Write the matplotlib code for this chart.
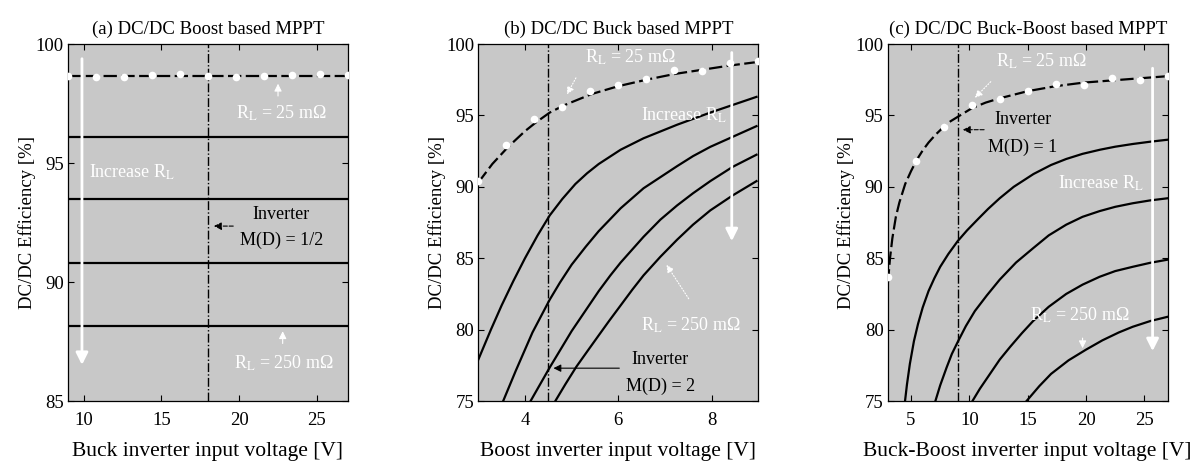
import numpy as np
import matplotlib.pyplot as plt

plt.rcParams['font.family'] = ['Liberation Serif', 'DejaVu Serif']
plt.rcParams['mathtext.fontset'] = 'stix'

# ---- (a) boost based MPPT: flat efficiency lines ----
a_x = [9, 27]
a_dashed = [98.67, 98.67]
a_solid = [[96.1, 96.1], [93.47, 93.47], [90.81, 90.81], [88.17, 88.17]]
a_dot_x = [9.0, 10.8, 12.6, 14.4, 16.2, 18.0, 19.8, 21.6, 23.4, 25.2, 27.0]
a_dot_y = [98.65, 98.6, 98.62, 98.7, 98.72, 98.65, 98.62, 98.65, 98.7, 98.72, 98.68]

# ---- (b) buck based MPPT ----
b_dash_x = [3.0, 3.3, 3.64, 4.0, 4.23, 4.53, 4.83, 5.43, 6.0, 6.6, 7.2, 7.8, 8.4, 9.0]
b_dash_y = [90.3, 91.6, 92.8, 93.9, 94.5, 95.2, 95.7, 96.5, 97.05, 97.5, 97.9, 98.2, 98.5, 98.75]
b_c1_x = [3.0, 3.27, 3.5, 3.75, 4.0, 4.27, 4.53, 4.8, 5.08, 5.33, 5.58, 6.05, 6.54, 7.26, 7.97, 8.96]
b_c1_y = [77.9, 80.0, 81.7, 83.4, 85.0, 86.6, 88.0, 89.15, 90.2, 90.95, 91.6, 92.6, 93.4, 94.35, 95.2, 96.3]
b_c2_x = [3.45, 3.52, 3.8, 4.16, 4.53, 4.75, 5.0, 5.3, 5.58, 6.05, 6.54, 7.26, 7.6, 7.97, 8.96]
b_c2_y = [74.4, 74.9, 77.1, 79.8, 82.1, 83.3, 84.55, 85.8, 86.9, 88.5, 89.9, 91.45, 92.15, 92.8, 94.25]
b_c3_x = [4.05, 4.12, 4.53, 5.0, 5.58, 5.83, 6.05, 6.54, 6.9, 7.26, 7.6, 7.97, 8.45, 8.96]
b_c3_y = [74.6, 75.0, 77.35, 79.9, 82.7, 83.8, 84.7, 86.5, 87.7, 88.7, 89.55, 90.4, 91.4, 92.25]
b_c4_x = [4.6, 4.65, 4.87, 5.1, 5.35, 5.58, 5.8, 6.05, 6.3, 6.54, 6.9, 7.26, 7.6, 7.97, 8.45, 8.96]
b_c4_y = [74.7, 75.0, 76.2, 77.4, 78.55, 79.6, 80.6, 81.7, 82.8, 83.8, 85.1, 86.3, 87.35, 88.35, 89.4, 90.4]
b_dot_x = [3.0, 3.6, 4.2, 4.8, 5.4, 6.0, 6.6, 7.2, 7.8, 8.4, 9.0]
b_dot_y = [90.4, 92.9, 94.75, 95.6, 96.7, 97.15, 97.55, 98.2, 98.1, 98.65, 98.8]

# ---- (c) buck-boost based MPPT ----
c_dash_x = [3.02, 3.2, 3.4, 3.7, 4.0, 4.5, 5.0, 5.5, 6.0, 6.5, 7.1, 7.8, 8.4, 9.0, 10.2,
            11.4, 12.6, 15.0, 17.4, 19.8, 22.2, 24.6, 27.0]
c_dash_y = [83.3, 85.0, 86.4, 87.9, 88.9, 90.2, 91.1, 91.9, 92.55, 93.1, 93.65, 94.2, 94.6,
            94.9, 95.5, 95.9, 96.2, 96.7, 97.05, 97.3, 97.45, 97.6, 97.75]
c_c1_x = [4.4, 4.65, 4.9, 5.25, 5.6, 6.0, 6.5, 7.0, 7.5, 8.2, 9.0, 9.8, 10.75, 11.6, 12.6,
          13.8, 15.5, 17.0, 18.3, 19.7, 21.2, 22.5, 24.0, 25.5, 27.0]
c_c1_y = [74.4, 76.15, 77.6, 79.2, 80.4, 81.55, 82.7, 83.6, 84.4, 85.3, 86.2, 86.95, 87.75,
          88.45, 89.2, 90.0, 90.9, 91.53, 91.95, 92.31, 92.6, 92.81, 93.0, 93.16, 93.3]
c_c2_x = [6.9, 7.05, 7.5, 8.05, 8.5, 9.04, 9.7, 10.47, 11.5, 12.6, 14.0, 15.46, 16.8, 18.3,
          19.7, 21.16, 22.5, 24.0, 25.5, 27.0]
c_c2_y = [74.5, 74.9, 76.1, 77.35, 78.3, 79.2, 80.25, 81.3, 82.4, 83.5, 84.7, 85.7, 86.6,
          87.35, 87.9, 88.3, 88.6, 88.85, 89.05, 89.2]
c_c3_x = [10.1, 10.19, 10.9, 11.6, 12.6, 13.5, 14.5, 15.46, 16.8, 18.3, 19.7, 21.16, 22.5,
          24.0, 25.5, 27.0]
c_c3_y = [74.7, 74.9, 75.86, 76.7, 77.9, 78.8, 79.75, 80.6, 81.6, 82.5, 83.15, 83.7, 84.1,
          84.4, 84.68, 84.9]
c_c4_x = [14.6, 14.9, 16.0, 17.0, 18.5, 20.0, 21.4, 22.8, 24.0, 25.5, 27.0]
c_c4_y = [74.7, 75.0, 76.05, 76.9, 77.85, 78.6, 79.25, 79.8, 80.2, 80.6, 80.9]
c_dot_x = [3.0, 5.4, 7.8, 10.2, 12.6, 15.0, 17.4, 19.8, 22.2, 24.6, 27.0]
c_dot_y = [83.7, 91.8, 94.2, 95.75, 96.15, 96.7, 97.2, 97.1, 97.6, 97.5, 97.75]

titles = ['(a) DC/DC Boost based MPPT', '(b) DC/DC Buck based MPPT',
          '(c) DC/DC Buck-Boost based MPPT']
xlabels = ['Buck inverter input voltage [V]', 'Boost inverter input voltage [V]',
           'Buck-Boost inverter input voltage [V]']

bg = '#c8c8c8'
ann = 13

fig = plt.figure(figsize=(12.03, 4.65), dpi=100)
lefts = [0.0565, 0.3976, 0.7379]
axes = [fig.add_axes([l, 0.1376, 0.2328, 0.7677]) for l in lefts]


def style(ax, title, xlabel, xlim, ylim, xticks, yticks):
    ax.set_facecolor(bg)
    ax.set_xlim(*xlim)
    ax.set_ylim(*ylim)
    ax.set_xticks(xticks)
    ax.set_yticks(yticks)
    ax.tick_params(direction='in', top=True, right=True, labelsize=13.5, length=4)
    ax.tick_params(axis='x', pad=8)
    ax.tick_params(axis='y', pad=3)
    ax.set_title(title, fontsize=13.5, pad=7)
    ax.set_xlabel(xlabel, fontsize=15.5, labelpad=9)
    ax.set_ylabel('DC/DC Efficiency [%]', fontsize=13.5, labelpad=0)
    for s in ax.spines.values():
        s.set_linewidth(0.9)


def draw_dashed(ax, x, y, dx, dy):
    ax.plot(x, y, color='black', lw=1.6, ls=(0, (6, 2)), zorder=3)
    ax.plot(dx, dy, 'o', color='white', ms=5.5, mec='none', zorder=4)


def white_text(ax, x, y, s, size=ann):
    ax.text(x, y, s, color='white', fontsize=size, ha='center', va='center', zorder=6)


def black_text(ax, x, y, s, size=ann):
    ax.text(x, y, s, color='black', fontsize=size, ha='center', va='center', zorder=6)


def big_arrow(ax, x, y0, y1):
    ax.annotate('', xy=(x, y1), xytext=(x, y0),
                arrowprops=dict(arrowstyle='-|>', color='white', lw=2, mutation_scale=18),
                zorder=6)


def small_arrow(ax, x0, y0, x1, y1, color='white', ls='-'):
    ax.annotate('', xy=(x1, y1), xytext=(x0, y0),
                arrowprops=dict(arrowstyle='-|>', color=color, lw=0.8, ls=ls,
                                mutation_scale=11),
                zorder=6)


RL = 'R$_\\mathrm{L}$'

# (a)
ax = axes[0]
style(ax, titles[0], xlabels[0], (9, 27), (85, 100), [10, 15, 20, 25], [85, 90, 95, 100])
for ys in a_solid:
    ax.plot(a_x, ys, color='black', lw=1.6, zorder=3)
draw_dashed(ax, a_x, a_dashed, a_dot_x, a_dot_y)
ax.axvline(18, color='black', lw=1, ls='-.', zorder=2)
big_arrow(ax, 9.9, 99.5, 86.4)
white_text(ax, 13.1, 94.6, 'Increase ' + RL)
white_text(ax, 22.7, 97.1, RL + ' = 25 m\u03a9')
small_arrow(ax, 22.5, 97.7, 22.5, 98.45)
white_text(ax, 22.9, 86.6, RL + ' = 250 m\u03a9')
small_arrow(ax, 22.8, 87.3, 22.8, 88.05)
black_text(ax, 22.7, 92.85, 'Inverter')
black_text(ax, 22.7, 91.75, 'M(D) = 1/2')
small_arrow(ax, 19.8, 92.35, 18.2, 92.35, color='black', ls='--')

# (b)
ax = axes[1]
style(ax, titles[1], xlabels[1], (3, 9), (75, 100), [4, 6, 8], [75, 80, 85, 90, 95, 100])
for xs, ys in [(b_c1_x, b_c1_y), (b_c2_x, b_c2_y), (b_c3_x, b_c3_y), (b_c4_x, b_c4_y)]:
    ax.plot(xs, ys, color='black', lw=1.6, zorder=3)
draw_dashed(ax, b_dash_x, b_dash_y, b_dot_x, b_dot_y)
ax.axvline(4.5, color='black', lw=1, ls='-.', zorder=2)
white_text(ax, 6.26, 99.1, RL + ' = 25 m\u03a9')
small_arrow(ax, 5.12, 97.8, 4.87, 96.3, ls=':')
white_text(ax, 7.4, 95.0, 'Increase ' + RL)
big_arrow(ax, 8.43, 99.6, 86.0)
white_text(ax, 7.55, 80.3, RL + ' = 250 m\u03a9')
small_arrow(ax, 7.54, 82.0, 7.0, 84.7, ls=':')
black_text(ax, 6.9, 77.9, 'Inverter')
black_text(ax, 6.9, 76.0, 'M(D) = 2')
small_arrow(ax, 6.08, 77.3, 4.55, 77.3, color='black')

# (c)
ax = axes[2]
style(ax, titles[2], xlabels[2], (3, 27), (75, 100), [5, 10, 15, 20, 25], [75, 80, 85, 90, 95, 100])
for xs, ys in [(c_c1_x, c_c1_y), (c_c2_x, c_c2_y), (c_c3_x, c_c3_y), (c_c4_x, c_c4_y)]:
    ax.plot(xs, ys, color='black', lw=1.6, zorder=3)
draw_dashed(ax, c_dash_x, c_dash_y, c_dot_x, c_dot_y)
ax.axvline(9, color='black', lw=1, ls='-.', zorder=2)
white_text(ax, 16.2, 98.8, RL + ' = 25 m\u03a9')
small_arrow(ax, 12.0, 97.5, 10.3, 96.1, ls=':')
black_text(ax, 14.6, 94.7, 'Inverter')
black_text(ax, 14.6, 92.8, 'M(D) = 1')
small_arrow(ax, 11.5, 94.0, 9.2, 94.0, color='black', ls='--')
white_text(ax, 21.3, 90.25, 'Increase ' + RL)
big_arrow(ax, 25.7, 98.5, 78.3)
white_text(ax, 19.45, 81.0, RL + ' = 250 m\u03a9')
small_arrow(ax, 19.7, 79.6, 19.7, 78.5)

fig.savefig('out.png', dpi=100)
